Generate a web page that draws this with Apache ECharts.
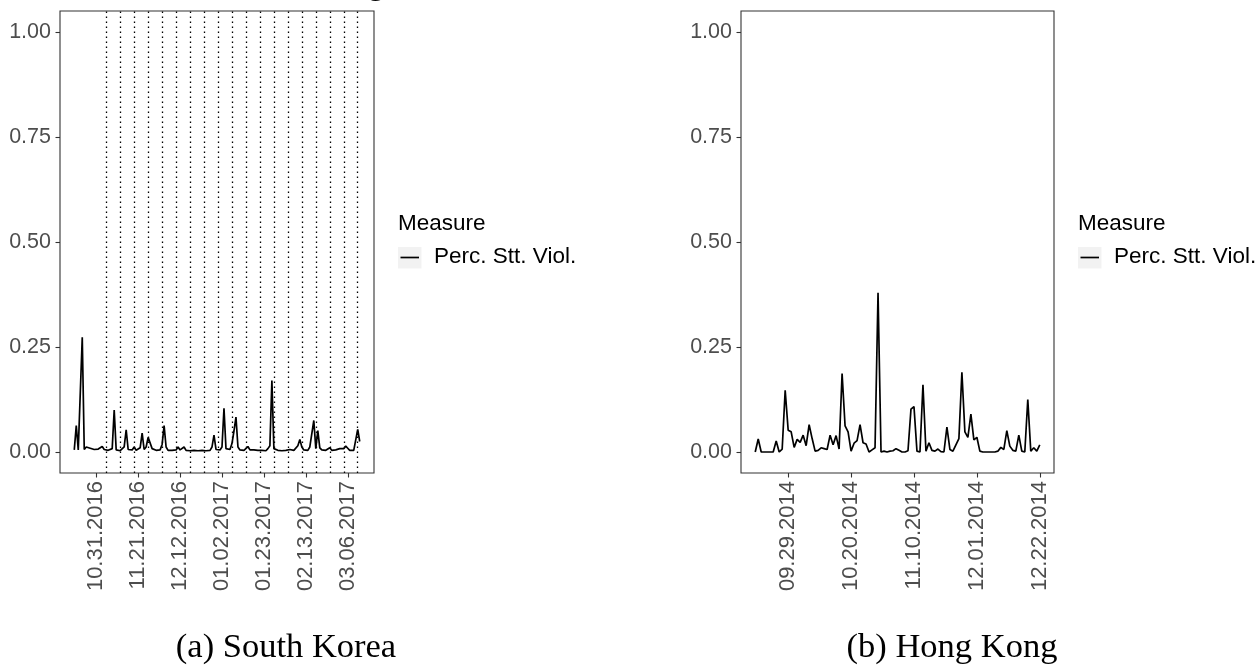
<!DOCTYPE html>
<html>
<head>
<meta charset="utf-8">
<script src="https://cdn.jsdelivr.net/npm/echarts@6/dist/echarts.min.js"></script>
<style>
html,body{margin:0;padding:0;background:#fff;}
#chart{width:1259px;height:667px;}
</style>
</head>
<body>
<div id="chart"></div>
<script>
// ---------- DATA ----------
const seriesName = 'Perc. Stt. Viol.';
const legendTitle = 'Measure';

// South Korea: daily values starting 10.20.2016
const koreaStart = '10.20.2016';
const koreaValues = [
  0.005,0.063,0.005,0.004,0.273,0.006,0.012,0.008,0.009,0.005,
  0.006,0.004,0.007,0.004,0.013,0.006,0.005,0.004,0.006,0.008,
  0.100,0.005,0.004,0.003,0.006,0.012,0.053,0.006,0.004,0.005,
  0.012,0.004,0.003,0.010,0.045,0.006,0.012,0.035,0.037,0.008,
  0.006,0.004,0.003,0.005,0.018,0.063,0.012,0.004,0.003,0.004,
  0.003,0.005,0.012,0.005,0.008,0.012,0.004,0.006,0.003,0.003,
  0.004,0.002,0.003,0.003,0.004,0.003,0.003,0.003,0.004,0.012,
  0.040,0.006,0.004,0.005,0.012,0.104,0.008,0.005,0.006,0.020,
  0.050,0.083,0.012,0.005,0.004,0.004,0.005,0.013,0.005,0.004,
  0.005,0.003,0.004,0.006,0.004,0.005,0.003,0.008,0.015,0.170,
  0.008,0.006,0.004,0.005,0.003,0.006,0.004,0.003,0.006,0.005,
  0.004,0.008,0.015,0.030,0.012,0.005,0.008,0.004,0.012,0.008,
  0.075,0.008,0.051,0.010,0.005,0.006,0.004,0.005,0.010,0.004,
  0.006,0.005,0.004,0.008,0.012,0.008,0.014,0.009,0.004,0.003,
  0.004,0.008,0.054,0.025
];
const koreaTickLabels = ['10.31.2016','11.21.2016','12.12.2016','01.02.2017','01.23.2017','02.13.2017','03.06.2017'];
const koreaWeekLines = ['11.05.2016','11.12.2016','11.19.2016','11.26.2016','12.03.2016','12.10.2016','12.17.2016',
  '12.24.2016','12.31.2016','01.07.2017','01.14.2017','01.21.2017','01.28.2017','02.04.2017','02.11.2017',
  '02.18.2017','02.25.2017','03.04.2017','03.11.2017'];

// Hong Kong: daily values starting 09.18.2014
const hkStart = '09.18.2014';
const hkValues = [
  0,0.031,0,0,0,0,0,0.026,0,0.007,
  0.147,0.052,0.048,0.011,0.030,0.023,0.040,0.015,0.065,0.032,
  0.002,0.004,0.010,0.008,0.006,0.040,0.017,0.039,0.007,0.187,
  0.062,0.048,0.002,0.021,0.027,0.065,0.022,0.019,0,0.005,
  0.010,0.379,0,0.002,0,0.002,0.003,0.008,0.004,0,
  0,0.003,0.102,0.108,0.002,0,0.160,0.002,0.022,0.004,
  0.002,0.007,0.001,0,0.059,0.006,0.002,0.017,0.032,0.190,
  0.048,0.035,0.090,0.029,0.035,0.002,0,0,0,0,
  0,0.002,0.011,0.006,0.051,0.014,0.004,0.002,0.040,0.002,
  0,0.125,0.002,0.010,0.002,0.017
];
const hkTickLabels = ['09.29.2014','10.20.2014','11.10.2014','12.01.2014','12.22.2014'];

const yTickValues = [0, 0.25, 0.5, 0.75, 1.0];
const yTickLabels = ['0.00','0.25','0.50','0.75','1.00'];
const captions = ['(a) South Korea', '(b) Hong Kong'];

// ---------- HELPERS ----------
// x positions are day numbers (UTC days since epoch), labelled as MM.DD.YYYY
function parseMDY(s){ const p = s.split('.'); return Math.round(Date.UTC(+p[2], +p[0]-1, +p[1]) / 86400000); }
function pad(n){ return (n<10?'0':'')+n; }
function fmt(day){ const d = new Date(Math.round(day)*86400000); return pad(d.getUTCMonth()+1)+'.'+pad(d.getUTCDate())+'.'+d.getUTCFullYear(); }
function toSeries(startStr, vals){ const s = parseMDY(startStr); return vals.map((v,i)=>[s+i, v]); }
function expandRange(startStr, n){
  const a = parseMDY(startStr), b = a + n - 1, e = (b-a)*0.05;
  return [a-e, b+e];
}

const koreaRange = expandRange(koreaStart, koreaValues.length);
const hkRange = expandRange(hkStart, hkValues.length);

const labelColor = '#4d4d4d';
const lineColor = '#333333';
const sans = 'Liberation Sans, Arial, Helvetica, sans-serif';
const serif = 'Liberation Serif, Times New Roman, serif';

function xAxis(gridIndex, range, ticks){
  const vals = ticks.map(parseMDY);
  return {
    type:'value', gridIndex, min:range[0], max:range[1], scale:true,
    axisLine:{show:false, onZero:false},
    splitLine:{show:false},
    axisTick:{show:true, length:4.5, lineStyle:{color:lineColor, width:1.1}, customValues: vals},
    axisLabel:{show:true, rotate:90, margin:8, color:labelColor, fontSize:22, fontFamily:sans,
      customValues: vals, formatter: v => fmt(v), showMinLabel:true, showMaxLabel:true}
  };
}
function yAxis(gridIndex){
  return {
    type:'value', gridIndex, min:-0.05, max:1.05,
    axisLine:{show:false},
    splitLine:{show:false},
    axisTick:{show:true, length:4.5, lineStyle:{color:lineColor, width:1.1}, customValues: yTickValues},
    axisLabel:{show:true, margin:9, color:labelColor, fontSize:21.5, fontFamily:sans,
      customValues: yTickValues,
      formatter: v => { const k = yTickValues.findIndex(t => Math.abs(t - v) < 1e-6); return k >= 0 ? yTickLabels[k] : ''; }}
  };
}

function legendGraphic(x){
  return [
    {type:'text', left:x, top:212, style:{text:legendTitle, font:'22.5px '+sans, fill:'#000'}},
    {type:'rect', shape:{x:x, y:247, width:23.5, height:21.5}, style:{fill:'#f2f2f2'}},
    {type:'line', shape:{x1:x+2.5, y1:257.5, x2:x+21, y2:257.5}, style:{stroke:'#000', lineWidth:1.7}},
    {type:'text', left:x+36, top:245, style:{text:seriesName, font:'22.5px '+sans, fill:'#000'}}
  ];
}

const chart = echarts.init(document.getElementById('chart'), null, {renderer:'canvas'});
chart.setOption({
  animation:false,
  backgroundColor:'#ffffff',
  grid:[
    {left:60, top:11, width:314, height:462, show:true, borderColor:lineColor, borderWidth:1.1, backgroundColor:'#fff'},
    {left:741, top:11, width:313, height:462, show:true, borderColor:lineColor, borderWidth:1.1, backgroundColor:'#fff'}
  ],
  xAxis:[ xAxis(0, koreaRange, koreaTickLabels), xAxis(1, hkRange, hkTickLabels) ],
  yAxis:[ yAxis(0), yAxis(1) ],
  series:[
    {
      name:seriesName, type:'line', xAxisIndex:0, yAxisIndex:0,
      data: toSeries(koreaStart, koreaValues),
      showSymbol:false, symbol:'none',
      lineStyle:{color:'#000', width:1.7}, itemStyle:{color:'#000'},
      markLine:{
        silent:true, symbol:['none','none'], label:{show:false},
        lineStyle:{color:'#000', type:[1.6,3.4], width:1.3},
        data: koreaWeekLines.map(d=>({xAxis: parseMDY(d)}))
      }
    },
    {
      name:seriesName, type:'line', xAxisIndex:1, yAxisIndex:1,
      data: toSeries(hkStart, hkValues),
      showSymbol:false, symbol:'none',
      lineStyle:{color:'#000', width:1.7}, itemStyle:{color:'#000'}
    }
  ],
  graphic:[
    ...legendGraphic(398),
    ...legendGraphic(1078),
    {type:'text', x:286, y:648, style:{text:captions[0], font:'34.5px '+serif, fill:'#000', textAlign:'center', textVerticalAlign:'middle'}},
    {type:'text', x:952, y:648, style:{text:captions[1], font:'34.5px '+serif, fill:'#000', textAlign:'center', textVerticalAlign:'middle'}},
    {type:'text', x:376, y:-14.3, style:{text:'g', font:'33px '+serif, fill:'#000', textAlign:'center', textVerticalAlign:'middle'}}
  ]
});
</script>
</body>
</html>
